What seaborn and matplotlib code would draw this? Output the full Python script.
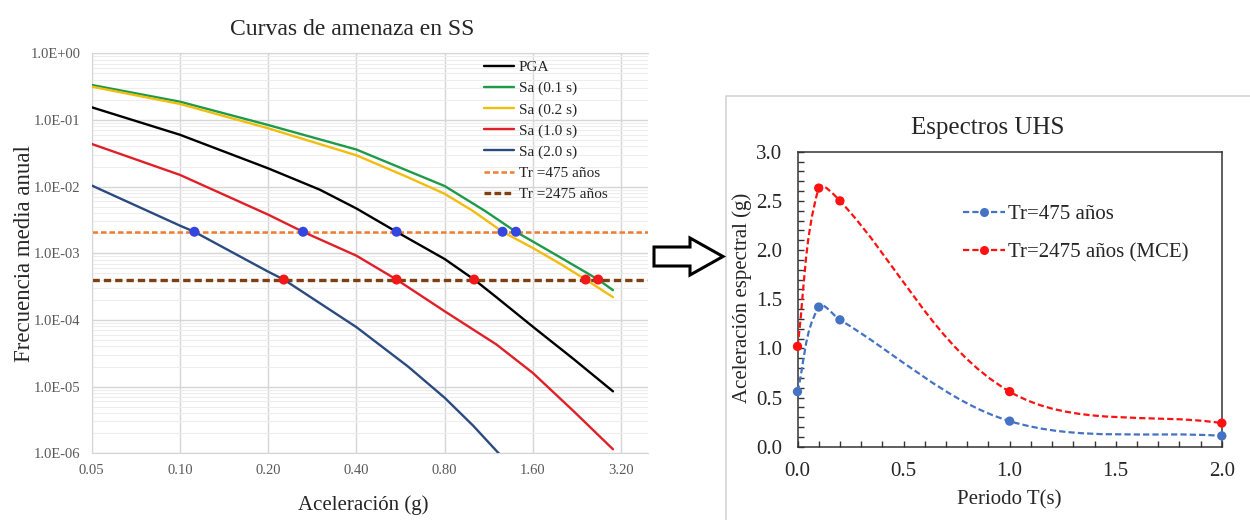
import numpy as np
import pandas as pd
import matplotlib
matplotlib.use("Agg")
import matplotlib.pyplot as plt
import seaborn as sns
from matplotlib.path import Path
from matplotlib.patches import PathPatch, FancyArrow, Rectangle
from matplotlib.lines import Line2D
from matplotlib.ticker import NullLocator, LogLocator, NullFormatter, MultipleLocator, FormatStrFormatter

# -- curvas de amenaza
acc_pga = [0.05, 0.10, 0.20, 0.30, 0.40, 0.548, 0.80, 1.008, 1.20, 1.60, 2.20, 3.00]
frec_pga = [0.155, 0.060, 0.0188, 0.0090, 0.0047, 0.0021, 0.00082, 0.000404, 0.00022, 7.9e-5, 2.6e-5, 8.5e-6]

acc_sa01 = [0.05, 0.10, 0.20, 0.40, 0.60, 0.80, 1.10, 1.40, 1.60, 2.00, 2.67, 3.00]
frec_sa01 = [0.335, 0.188, 0.084, 0.036, 0.0172, 0.0102, 0.0043, 0.0021, 0.0015, 0.00085, 0.000404, 0.00028]

acc_sa02 = [0.05, 0.10, 0.20, 0.40, 0.60, 0.80, 1.00, 1.26, 1.60, 2.00, 2.42, 3.00]
frec_sa02 = [0.316, 0.174, 0.075, 0.0295, 0.0138, 0.0078, 0.0043, 0.0021, 0.0012, 0.00068, 0.000404, 0.00022]

acc_sa10 = [0.05, 0.10, 0.20, 0.263, 0.40, 0.548, 0.80, 1.20, 1.60, 2.20, 3.00]
frec_sa10 = [0.0437, 0.015, 0.0038, 0.0021, 0.00092, 0.000404, 0.000135, 4.3e-5, 1.6e-5, 4.3e-6, 1.15e-6]

acc_sa20 = [0.05, 0.10, 0.112, 0.20, 0.226, 0.40, 0.60, 0.80, 1.00, 1.25]
frec_sa20 = [0.0104, 0.0026, 0.0021, 0.00053, 0.000404, 7.8e-5, 2.0e-5, 6.8e-6, 2.6e-6, 9.0e-7]

periodos_retorno = [475, 2475]
cruces_475 = [0.112, 0.263, 0.548, 1.26, 1.40]
cruces_2475 = [0.226, 0.548, 1.008, 2.42, 2.67]

x_ticks = [0.05, 0.10, 0.20, 0.40, 0.80, 1.60, 3.20]
y_ticks = [1e-6, 1e-5, 1e-4, 1e-3, 1e-2, 1e-1, 1e0]

# -- espectros UHS
periodo = [0.0, 0.1, 0.2, 1.0, 2.0]
uhs_475 = [0.56, 1.42, 1.29, 0.26, 0.11]
uhs_2475 = [1.02, 2.63, 2.50, 0.56, 0.24]

sns.set_style("white")
plt.rcParams['font.family'] = ['Liberation Serif', 'DejaVu Serif']

W, H = 1250, 520
fig = plt.figure(figsize=(12.5, 5.2), dpi=100)
ax1 = fig.add_axes([91.7 / W, 1 - 453.3 / H, (648 - 91.7) / W, 400 / H])
ax2 = fig.add_axes([797.5 / W, 1 - 446.7 / H, (1221.8 - 797.5) / W, 295 / H])

# marco gris del grafico derecho
fig.add_artist(Rectangle((726 / W, -0.01), 1.0, (520 - 96) / H + 0.01, transform=fig.transFigure,
                         fill=False, ec='#d4d4d4', lw=1.2))

# ---------------- panel izquierdo ----------------
curvas = [('PGA', acc_pga, frec_pga), ('Sa (0.1 s)', acc_sa01, frec_sa01),
          ('Sa (0.2 s)', acc_sa02, frec_sa02), ('Sa (1.0 s)', acc_sa10, frec_sa10),
          ('Sa (2.0 s)', acc_sa20, frec_sa20)]
colores = {'PGA': '#000000', 'Sa (0.1 s)': '#1f9a48', 'Sa (0.2 s)': '#f2bd0f',
           'Sa (1.0 s)': '#e02028', 'Sa (2.0 s)': '#2b4a80'}
df = pd.concat([pd.DataFrame({'acc': a, 'frec': f, 'curva': n}) for n, a, f in curvas])

sns.lineplot(data=df, x='acc', y='frec', hue='curva', palette=colores, estimator=None,
             sort=False, lw=1.7, legend=False, ax=ax1, zorder=3)

tr_colores = ['#ed7d31', '#7e3f12']
tr_lw = [1.8, 2.4]
for tr, c, lw in zip(periodos_retorno, tr_colores, tr_lw):
    ax1.axhline(1 / tr, color=c, lw=lw, ls=(0, (2.2, 1.2)), zorder=2)

pts = pd.DataFrame({'acc': cruces_475 + cruces_2475,
                    'frec': [1 / 475] * len(cruces_475) + [1 / 2475] * len(cruces_2475),
                    'tr': ['475'] * len(cruces_475) + ['2475'] * len(cruces_2475)})
sns.scatterplot(data=pts, x='acc', y='frec', hue='tr', palette={'475': '#3346e0', '2475': '#f01818'},
                s=52, edgecolor='none', legend=False, ax=ax1, zorder=5)

ax1.set_xscale('log', base=2)
ax1.set_yscale('log')
ax1.set_xlim(0.05, 3.95)
ax1.set_ylim(1e-6, 1)
ax1.set_xticks(x_ticks)
ax1.set_xticklabels([f'{v:.2f}' for v in x_ticks])
ax1.xaxis.set_minor_locator(NullLocator())
ax1.set_yticks(y_ticks)
ax1.set_yticklabels([f'{v:.1E}' for v in y_ticks])
ax1.yaxis.set_minor_locator(LogLocator(base=10, subs=np.arange(2, 10) * 1.0, numticks=20))
ax1.yaxis.set_minor_formatter(NullFormatter())
ax1.tick_params(which='both', length=0, labelsize=10.5, colors='#595959', pad=8)
ax1.grid(which='major', color='#d6d6d6', lw=1.0)
ax1.grid(which='minor', axis='y', color='#ededed', lw=0.8)
ax1.set_axisbelow(True)
for s in ['left', 'top', 'bottom']:
    ax1.spines[s].set_color('#d6d6d6')
ax1.spines['right'].set_visible(False)

ax1.text(0.468, 1.06, 'Curvas de amenaza en SS', transform=ax1.transAxes,
         ha='center', va='center', fontsize=17)
ax1.set_xlabel('Aceleración (g)', fontsize=15)
ax1.xaxis.label.set_va('center')
ax1.xaxis.set_label_coords(0.488, -0.129)
ax1.set_ylabel('Frecuencia media anual', fontsize=16.5)
ax1.yaxis.label.set_va('center')
ax1.yaxis.set_label_coords(-0.12, 0.5)

handles = [Line2D([], [], color=colores[n], lw=1.7, label=n) for n, _, _ in curvas]
handles += [Line2D([], [], color=tr_colores[0], lw=1.8, ls=(0, (2.2, 1.2)), label='Tr =475 años'),
            Line2D([], [], color=tr_colores[1], lw=2.4, ls=(0, (2.0, 1.0)), label='Tr =2475 años')]
ax1.legend(handles=handles, loc='upper left', bbox_to_anchor=(0.705, 0.982), frameon=False,
           fontsize=11, handlelength=2.0, handletextpad=0.3, labelspacing=0.48,
           borderpad=0, borderaxespad=0)

# flecha
fig.add_artist(FancyArrow(6.54, 5.2 - 2.565, 0.69, 0, width=0.19, head_width=0.37, head_length=0.33,
                          length_includes_head=True, transform=fig.dpi_scale_trans,
                          fc='white', ec='black', lw=2.2))

# ---------------- panel derecho ----------------
def curva_suave(x, y, ax):
    # suavizado tipo Excel (bezier cubico) calculado en espacio de pantalla
    sx = ax.bbox.width / np.ptp(ax.get_xlim())
    sy = ax.bbox.height / np.ptp(ax.get_ylim())
    p = np.column_stack([np.asarray(x) * sx, np.asarray(y) * sy])
    n = len(p)
    tang = []
    for i in range(n):
        d = p[min(i + 1, n - 1)] - p[max(i - 1, 0)]
        tang.append(d / np.hypot(*d))
    verts = [p[0]]
    codes = [Path.MOVETO]
    for i in range(n - 1):
        L = np.hypot(*(p[i + 1] - p[i])) / 3
        verts += [p[i] + tang[i] * L, p[i + 1] - tang[i + 1] * L, p[i + 1]]
        codes += [Path.CURVE4] * 3
    verts = np.array(verts) / [sx, sy]
    return Path(verts, codes)

ax2.set_xlim(0, 2)
ax2.set_ylim(0, 3)

uhs_col = {'Tr=475 años': '#4472c4', 'Tr=2475 años (MCE)': '#ff1111'}
for (lab, c), vals in zip(uhs_col.items(), [uhs_475, uhs_2475]):
    ax2.add_patch(PathPatch(curva_suave(periodo, vals, ax2), fill=False, ec=c, lw=1.6,
                            ls=(0, (2.8, 1.4)), zorder=3))

df_uhs = pd.DataFrame({'T': periodo * 2, 'Sa': uhs_475 + uhs_2475,
                       'serie': ['Tr=475 años'] * len(periodo) + ['Tr=2475 años (MCE)'] * len(periodo)})
sns.scatterplot(data=df_uhs, x='T', y='Sa', hue='serie', palette=uhs_col, s=45,
                edgecolor='none', legend=False, ax=ax2, zorder=4, clip_on=False)

ax2.xaxis.set_major_locator(MultipleLocator(0.5))
ax2.xaxis.set_minor_locator(MultipleLocator(0.1))
ax2.yaxis.set_major_locator(MultipleLocator(0.5))
ax2.yaxis.set_minor_locator(MultipleLocator(0.1))
ax2.xaxis.set_major_formatter(FormatStrFormatter('%.1f'))
ax2.yaxis.set_major_formatter(FormatStrFormatter('%.1f'))
ax2.tick_params(which='both', direction='in', length=4, width=1, color='#333333',
                labelsize=15, pad=11, top=False, right=False, bottom=True, left=True)
for s in ax2.spines.values():
    s.set_color('#333333')
    s.set_linewidth(1.1)

ax2.text(0.448, 1.079, 'Espectros UHS', transform=ax2.transAxes, ha='center', va='center', fontsize=18)
ax2.set_xlabel('Periodo T(s)', fontsize=15)
ax2.xaxis.label.set_va('center')
ax2.xaxis.set_label_coords(0.5, -0.181)
ax2.set_ylabel('Aceleración espectral (g)', fontsize=15)
ax2.yaxis.label.set_va('center')
ax2.yaxis.set_label_coords(-0.131, 0.504)

h2 = [Line2D([], [], color=c, lw=1.6, ls=(0, (2.8, 1.4)), marker='o', ms=6.5, mec='none', label=l)
      for l, c in uhs_col.items()]
ax2.legend(handles=h2, loc='upper left', bbox_to_anchor=(0.39, 0.82), frameon=False, fontsize=15,
           handlelength=2.0, handletextpad=0.15, labelspacing=0.9, borderpad=0, borderaxespad=0)

fig.savefig('out.png', dpi=100)
